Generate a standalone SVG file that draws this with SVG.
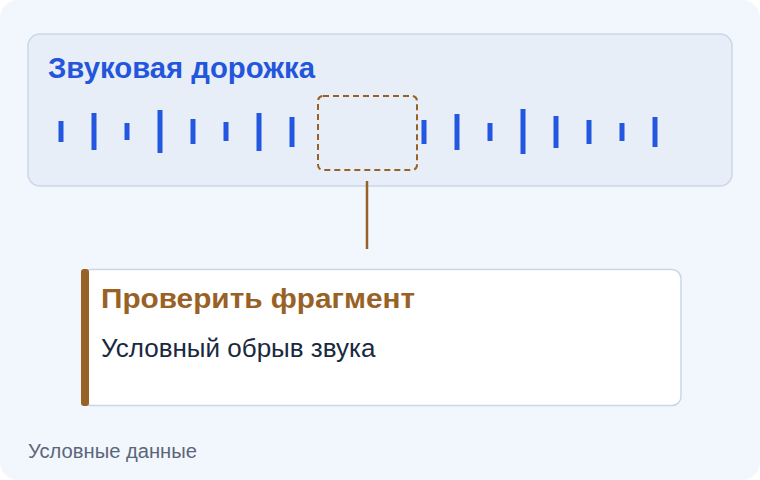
<svg xmlns="http://www.w3.org/2000/svg" width="760" height="480" viewBox="0 0 760 480">
<style>
.bar{fill:#2357e0}
.t{font-family:"Liberation Sans",Arial,sans-serif}
</style>
<rect x="0" y="0" width="760" height="480" fill="#ffffff"/>
<rect x="0" y="0" width="760" height="480" rx="18" fill="#f2f6fd"/>
<g id="track">
<rect x="28" y="34" width="704" height="152" rx="12" fill="#e8eef8" stroke="#c9d7e8" stroke-width="1.5"/>
<text class="t" x="48" y="78" font-size="29" font-weight="bold" fill="#2356dc" textLength="267" lengthAdjust="spacingAndGlyphs">Звуковая дорожка</text>
<g id="bars">
<rect class="bar" x="58.5" y="121" width="5" height="21"/>
<rect class="bar" x="91.5" y="113" width="5" height="37"/>
<rect class="bar" x="124.5" y="123" width="5" height="17"/>
<rect class="bar" x="157.5" y="110" width="5" height="43"/>
<rect class="bar" x="190.5" y="119" width="5" height="25"/>
<rect class="bar" x="223.5" y="122" width="5" height="19"/>
<rect class="bar" x="256.5" y="113" width="5" height="38"/>
<rect class="bar" x="289.5" y="117" width="5" height="30"/>
<rect class="bar" x="421.5" y="120" width="5" height="24"/>
<rect class="bar" x="454.5" y="114" width="5" height="36"/>
<rect class="bar" x="487.5" y="123" width="5" height="18"/>
<rect class="bar" x="520.5" y="109" width="5" height="45"/>
<rect class="bar" x="553.5" y="116" width="5" height="32"/>
<rect class="bar" x="586.5" y="120" width="5" height="24"/>
<rect class="bar" x="619.5" y="123" width="5" height="18"/>
<rect class="bar" x="652.5" y="117" width="5" height="30"/>
</g>
</g>
<g id="gap">
<rect x="318" y="96" width="99" height="74" rx="5" fill="none" stroke="#986226" stroke-width="2" stroke-dasharray="6 4"/>
</g>
<g id="connectors">
<line x1="367" y1="181" x2="367" y2="249" stroke="#986226" stroke-width="2.5"/>
</g>
<g id="note">
<rect x="82" y="269.5" width="599" height="136" rx="9" fill="#ffffff" stroke="#c9d7e8" stroke-width="1.5"/>
<rect x="81" y="269" width="8" height="137" rx="3" fill="#986226"/>
<text class="t" x="101" y="308" font-size="28" font-weight="bold" fill="#986226" textLength="314" lengthAdjust="spacingAndGlyphs">Проверить фрагмент</text>
<text class="t" x="101" y="357" font-size="26" fill="#1b2940">Условный обрыв звука</text>
</g>
<text class="t" x="28" y="458" font-size="20" fill="#5b6679" textLength="169" lengthAdjust="spacingAndGlyphs">Условные данные</text>
</svg>
